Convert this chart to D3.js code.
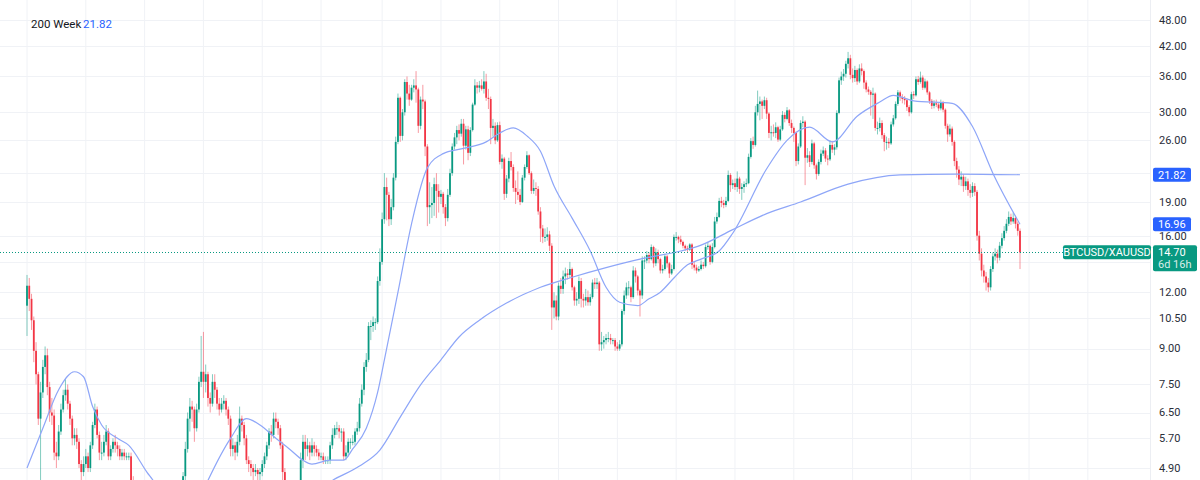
<!DOCTYPE html>
<html>
<head>
<meta charset="utf-8">
<script src="https://cdn.jsdelivr.net/npm/d3@7"></script>
<style>
  html, body { margin: 0; padding: 0; background: #fff; }
  svg { display: block; font-family: Roboto, "Liberation Sans", Arial, sans-serif; }
</style>
</head>
<body>
<svg id="chart" width="1200" height="480"></svg>
<script>
// weekly BTCUSD/XAUUSD candles, first week of 2018 onward (open = previous close)
const firstOpen = 11.2;

const close = [
  // 2018
  12.4, 11.6, 10.4, 8.9, 7.9, 6.3, 7.2, 8.2, 8.7, 7.4,
  6.5, 6.4, 5.3, 5.2, 5.9, 6.6, 7.1, 7.3, 6.8, 6.3,
  5.7, 5.8, 5.6, 5.0, 4.8, 5.0, 5.2, 4.9, 5.5, 6.1,
  6.6, 5.8, 5.3, 5.3, 5.6, 5.9, 5.2, 5.4, 5.6, 5.5,
  5.4, 5.2, 5.3, 5.2, 5.2, 5.2, 4.6, 3.3, 3.3, 2.8,
  2.6, 3.2,
  // 2019
  3.0, 2.8, 2.75, 2.7, 2.7, 2.8, 2.9, 2.9, 3.0, 3.0,
  3.1, 3.1, 3.9, 4.0, 4.1, 4.1, 4.4, 4.7, 5.4, 6.3,
  6.7, 6.6, 6.0, 6.6, 7.6, 8.0, 7.6, 7.9, 7.0, 6.8,
  7.6, 7.3, 6.8, 6.6, 6.8, 6.9, 6.6, 6.3, 5.4, 5.5,
  5.3, 5.6, 6.3, 6.1, 5.7, 5.1, 5.0, 4.9, 4.8, 4.85,
  4.75, 4.8,
  // 2020
  5.0, 5.2, 5.5, 5.9, 5.8, 6.3, 6.2, 6.0, 5.5, 4.8,
  3.5, 3.9, 3.7, 4.1, 4.0, 4.1, 4.4, 5.1, 5.6, 5.4,
  5.5, 5.3, 5.5, 5.4, 5.3, 5.2, 5.2, 5.1, 5.1, 5.1,
  5.5, 5.8, 6.0, 6.0, 5.9, 5.9, 5.2, 5.3, 5.6, 5.6,
  5.6, 5.9, 6.0, 6.8, 7.3, 8.2, 8.5, 10.1, 10.1, 10.3,
  10.3, 12.7,
  // 2021
  14.0, 17.4, 20.5, 19.7, 17.4, 18.5, 21.5, 25.8, 32.3, 26.6,
  30.0, 35.0, 33.0, 32.0, 34.0, 34.4, 33.7, 28.0, 32.0, 31.7,
  25.2, 18.5, 18.7, 18.9, 20.8, 20.1, 19.5, 19.8, 18.5, 17.5,
  19.7, 22.0, 25.2, 26.4, 27.4, 26.9, 28.3, 25.3, 27.5, 24.4,
  27.4, 31.2, 34.4, 34.0, 34.4, 33.8, 35.1, 32.3, 32.1, 27.7,
  28.0, 26.0, 28.1,
  // 2022
  23.3, 23.7, 19.8, 21.4, 23.4, 22.7, 20.4, 20.0, 19.7, 19.0,
  21.5, 22.7, 24.1, 22.0, 20.1, 20.4, 20.3, 18.1, 16.6, 15.9,
  15.9, 16.1, 15.2, 11.1, 11.5, 10.6, 12.4, 12.2, 13.0, 13.2,
  13.1, 13.5, 12.3, 11.5, 11.6, 12.7, 11.6, 11.5, 11.7, 11.4,
  11.7, 12.6, 12.5, 12.6, 9.2, 9.3, 9.4, 9.5, 9.5, 9.4,
  9.4, 9.1,
  // 2023
  9.0, 9.2, 10.9, 11.8, 12.3, 12.3, 11.7, 13.4, 13.0, 12.1,
  11.8, 14.1, 14.1, 14.5, 14.2, 15.1, 13.9, 14.7, 14.2, 13.4,
  13.5, 14.4, 13.9, 13.2, 13.5, 15.9, 15.9, 15.7, 15.5, 15.2,
  15.0, 14.9, 15.3, 13.8, 13.6, 13.4, 13.5, 13.8, 13.7, 15.1,
  15.2, 14.0, 15.1, 17.2, 17.6, 19.1, 18.9, 18.7, 19.1, 21.8,
  20.7, 20.9, 20.5,
  // 2024
  21.4, 20.3, 20.5, 20.8, 20.9, 23.9, 25.9, 25.4, 30.0, 31.3,
  31.7, 31.0, 31.9, 29.8, 27.0, 27.1, 27.0, 27.8, 26.1, 27.5,
  29.6, 29.0, 30.3, 28.4, 27.7, 27.0, 23.4, 25.2, 28.4, 28.6,
  23.8, 24.1, 23.3, 25.6, 22.9, 21.9, 23.3, 24.3, 24.7, 23.7,
  23.6, 25.4, 24.8, 25.1, 29.9, 35.3, 36.0, 36.5, 38.4, 39.5,
  36.3, 35.7,
  // 2025 - 2026
  37.2, 35.1, 37.5, 37.0, 34.9, 33.7, 33.3, 32.8, 33.0, 27.7,
  27.7, 28.4, 26.7, 25.8, 25.8, 25.6, 28.2, 29.1, 31.3, 33.2,
  32.4, 32.1, 31.9, 30.8, 30.0, 32.9, 32.7, 35.5, 35.0, 35.8,
  34.0, 35.1, 33.2, 31.8, 31.0, 31.4, 31.2, 30.6, 31.5, 30.4,
  28.0, 26.8, 27.6, 25.8, 23.4, 22.4, 21.3, 21.6, 20.6, 21.1,
  20.2, 19.9, 20.6, 20.0, 16.0, 14.6, 13.4, 13.0, 12.6, 12.3,
  13.5, 14.4, 14.6, 14.3, 15.2, 15.8, 16.4, 17.0, 17.6, 17.2,
  17.5, 17.0, 16.4, 14.7
];

const high = [
  // 2018
  13.1, 12.9, 11.9, 10.6, 9.3, 8.0, 7.6, 8.5, 9.1, 9.0,
  7.6, 7.0, 6.6, 5.6, 6.1, 6.8, 7.3, 7.7, 7.5, 6.9,
  6.4, 6.0, 6.0, 5.7, 5.1, 5.2, 5.4, 5.3, 5.6, 6.2,
  6.8, 6.7, 5.9, 5.6, 5.8, 6.1, 6.0, 5.5, 5.7, 5.8,
  5.6, 5.5, 5.4, 5.4, 5.3, 5.3, 5.3, 4.7, 3.6, 3.4,
  2.9, 3.4,
  // 2019
  3.3, 3.1, 2.9, 2.8, 2.8, 2.9, 3.0, 3.0, 3.1, 3.1,
  3.2, 3.2, 4.0, 4.2, 4.3, 4.3, 4.5, 4.8, 5.6, 6.5,
  7.0, 6.9, 6.7, 6.8, 7.8, 9.6, 9.8, 8.3, 8.0, 7.2,
  7.9, 7.9, 7.4, 7.0, 7.0, 7.1, 7.0, 6.7, 6.4, 5.7,
  5.6, 5.8, 6.7, 6.4, 6.2, 5.8, 5.2, 5.1, 5.0, 5.0,
  4.9, 4.9,
  // 2020
  5.1, 5.3, 5.6, 6.0, 6.1, 6.5, 6.5, 6.3, 6.1, 5.6,
  4.9, 4.1, 4.0, 4.2, 4.3, 4.2, 4.6, 5.3, 5.8, 5.8,
  5.7, 5.6, 5.7, 5.6, 5.5, 5.4, 5.3, 5.3, 5.2, 5.2,
  5.6, 6.0, 6.1, 6.2, 6.1, 6.0, 6.0, 5.5, 5.7, 5.7,
  5.8, 6.0, 6.2, 7.0, 7.5, 8.4, 8.8, 10.3, 10.4, 10.6,
  10.5, 13.0,
  // 2021
  15.0, 18.0, 22.0, 21.5, 20.0, 19.3, 22.0, 26.5, 33.0, 32.5,
  30.5, 35.5, 36.0, 34.5, 34.5, 35.5, 37.0, 34.0, 32.5, 34.5,
  32.0, 25.5, 21.0, 20.5, 21.5, 22.0, 20.8, 20.2, 20.0, 18.8,
  20.3, 22.5, 25.6, 27.0, 28.0, 28.2, 29.0, 29.0, 28.0, 28.0,
  27.8, 31.5, 35.5, 35.0, 35.2, 35.5, 37.0, 36.5, 33.8, 32.5,
  29.0, 28.5, 28.5,
  // 2022
  28.6, 24.2, 23.9, 21.8, 23.8, 24.5, 23.0, 21.2, 22.2, 20.3,
  21.8, 23.0, 24.6, 24.2, 22.2, 21.3, 21.0, 20.6, 18.5, 16.9,
  16.6, 16.7, 16.4, 15.4, 12.0, 11.8, 12.6, 12.9, 13.4, 13.6,
  13.5, 14.0, 13.6, 12.4, 12.0, 13.0, 12.9, 11.9, 12.2, 12.1,
  11.9, 12.8, 12.9, 12.9, 12.7, 9.8, 9.6, 9.7, 9.8, 9.7,
  9.5, 9.5,
  // 2023
  9.3, 9.4, 11.0, 12.1, 12.6, 12.7, 12.4, 13.7, 13.6, 13.1,
  12.2, 14.4, 14.4, 14.8, 14.7, 15.3, 15.2, 15.0, 14.9, 14.3,
  13.8, 14.6, 14.5, 14.0, 13.8, 16.1, 16.3, 16.0, 16.0, 15.6,
  15.3, 15.2, 15.4, 15.4, 14.0, 13.8, 13.7, 14.1, 14.0, 15.3,
  15.5, 15.3, 15.4, 17.6, 18.0, 19.4, 19.5, 19.2, 19.5, 22.3,
  22.0, 21.3, 21.4,
  // 2024
  22.2, 21.6, 20.9, 21.1, 21.4, 24.3, 26.3, 26.5, 31.0, 33.5,
  32.5, 32.0, 32.5, 32.3, 30.0, 28.0, 28.2, 28.5, 28.0, 28.0,
  30.2, 30.0, 30.8, 30.5, 28.9, 27.9, 27.2, 25.6, 28.8, 29.4,
  28.8, 25.0, 24.6, 26.1, 25.8, 23.1, 23.6, 24.8, 25.2, 25.0,
  24.1, 26.0, 25.9, 25.5, 30.3, 35.8, 36.9, 37.4, 39.0, 40.8,
  40.2, 37.5,
  // 2025 - 2026
  38.0, 37.5, 38.3, 38.5, 37.3, 35.3, 34.2, 33.6, 34.0, 33.2,
  28.6, 29.2, 28.8, 27.0, 26.5, 26.3, 28.6, 29.6, 31.7, 33.6,
  33.5, 32.9, 32.6, 32.2, 31.1, 33.3, 33.4, 36.0, 36.1, 36.9,
  36.2, 35.6, 35.3, 33.4, 32.1, 31.9, 32.0, 31.5, 32.0, 31.8,
  30.6, 28.3, 28.2, 27.9, 26.0, 23.8, 22.8, 22.2, 21.9, 21.6,
  21.4, 20.8, 21.0, 20.9, 20.2, 16.4, 15.0, 13.8, 13.3, 12.9,
  13.7, 14.7, 15.0, 14.9, 15.5, 16.2, 16.8, 17.4, 18.1, 17.9,
  18.0, 17.7, 17.2, 16.6
];

const low = [
  // 2018
  9.6, 10.9, 9.9, 8.4, 7.5, 6.1, 4.5, 7.0, 7.9, 7.1,
  6.2, 6.1, 5.1, 4.9, 5.1, 5.8, 6.5, 6.9, 6.6, 6.1,
  5.5, 5.5, 5.4, 4.9, 4.6, 4.7, 4.9, 4.8, 4.8, 5.4,
  6.0, 5.7, 5.1, 5.1, 5.2, 5.5, 5.1, 5.1, 5.3, 5.3,
  5.2, 5.1, 5.1, 5.1, 5.1, 5.1, 4.4, 3.1, 3.0, 2.6,
  2.5, 2.5,
  // 2019
  2.9, 2.7, 2.6, 2.6, 2.6, 2.6, 2.7, 2.8, 2.9, 2.9,
  2.9, 3.0, 3.1, 3.8, 3.9, 3.9, 4.0, 4.3, 4.6, 5.3,
  5.9, 6.2, 5.6, 5.9, 6.5, 7.4, 7.0, 7.2, 6.7, 6.5,
  6.7, 7.0, 6.6, 6.4, 6.5, 6.6, 6.4, 6.1, 5.2, 5.2,
  5.1, 5.2, 5.5, 5.9, 5.5, 5.0, 4.8, 4.7, 4.6, 4.7,
  4.6, 4.6,
  // 2020
  4.7, 4.9, 5.1, 5.4, 5.6, 5.7, 6.0, 5.8, 5.4, 4.6,
  2.8, 3.4, 3.6, 3.6, 3.9, 3.9, 4.0, 4.3, 4.9, 5.1,
  5.2, 5.1, 5.2, 5.2, 5.2, 5.1, 5.1, 5.0, 5.0, 5.0,
  5.0, 5.4, 5.7, 5.8, 5.7, 5.6, 5.1, 5.1, 5.2, 5.4,
  5.5, 5.5, 5.8, 5.9, 6.7, 7.1, 8.0, 8.4, 9.4, 9.8,
  9.9, 10.2,
  // 2021
  12.4, 13.8, 17.0, 17.3, 16.8, 16.9, 18.2, 21.2, 25.5, 25.8,
  26.0, 29.5, 32.0, 31.0, 31.8, 33.2, 31.5, 27.0, 27.5, 30.5,
  24.0, 16.8, 17.0, 17.5, 17.7, 17.5, 18.0, 18.8, 17.9, 16.8,
  17.2, 19.5, 21.7, 24.8, 25.5, 26.0, 26.5, 23.0, 24.8, 23.5,
  24.0, 27.2, 31.0, 33.0, 33.2, 33.5, 33.0, 31.8, 30.5, 25.5,
  26.5, 25.5, 25.8,
  // 2022
  23.0, 22.5, 19.2, 19.4, 21.0, 22.3, 20.0, 18.8, 19.2, 18.7,
  18.9, 21.2, 22.5, 21.8, 19.8, 19.8, 19.6, 17.8, 15.5, 15.4,
  15.5, 15.6, 14.8, 9.9, 10.5, 10.4, 10.4, 11.9, 11.9, 12.5,
  12.8, 12.9, 12.1, 11.2, 11.2, 11.3, 11.1, 11.1, 11.2, 11.2,
  11.2, 11.6, 12.2, 12.2, 8.9, 8.9, 9.0, 9.2, 9.3, 9.2,
  9.2, 8.9,
  // 2023
  8.9, 8.9, 9.1, 10.7, 11.6, 11.8, 11.4, 11.6, 12.6, 11.8,
  10.6, 11.6, 13.5, 13.9, 13.9, 14.1, 13.6, 13.7, 13.9, 13.2,
  13.2, 13.4, 13.6, 12.9, 13.1, 13.4, 15.6, 15.4, 15.3, 15.0,
  14.8, 14.7, 14.8, 13.5, 13.4, 13.2, 13.3, 13.4, 13.5, 13.6,
  14.9, 13.8, 13.9, 15.0, 17.0, 17.5, 18.5, 18.4, 18.5, 19.0,
  20.0, 20.3, 20.2,
  // 2024
  20.0, 19.8, 19.2, 19.9, 20.5, 20.8, 23.7, 24.9, 25.2, 29.5,
  28.8, 29.0, 30.5, 29.0, 26.3, 26.0, 26.5, 26.3, 25.8, 25.9,
  27.3, 28.5, 28.8, 28.0, 27.0, 25.8, 22.8, 23.0, 25.0, 27.8,
  20.7, 23.2, 22.7, 23.0, 22.5, 21.3, 21.7, 23.0, 24.0, 23.3,
  22.9, 23.4, 24.4, 24.1, 24.8, 29.7, 34.5, 35.2, 35.8, 37.5,
  35.5, 34.9,
  // 2025 - 2026
  35.0, 34.5, 34.8, 36.2, 33.8, 33.2, 32.8, 29.5, 29.0, 27.3,
  26.8, 27.2, 26.2, 24.6, 24.8, 25.0, 25.4, 27.9, 28.9, 31.0,
  31.8, 31.4, 31.2, 30.2, 29.4, 29.8, 32.1, 32.5, 34.5, 34.7,
  33.6, 33.7, 32.8, 31.3, 30.5, 30.6, 30.8, 30.2, 30.3, 30.0,
  27.6, 25.8, 26.5, 25.3, 22.8, 21.5, 20.7, 20.6, 20.0, 20.2,
  19.6, 19.4, 19.5, 19.6, 15.6, 14.1, 13.0, 12.6, 12.1, 12.0,
  12.1, 13.3, 14.1, 13.9, 14.1, 15.0, 15.6, 16.2, 16.8, 16.9,
  17.0, 16.6, 16.0, 13.5
];

// moving averages at selected weeks
const ma200Week  = [120, 135, 147, 156, 165, 174, 183, 191, 200, 212, 227, 241, 256, 271, 289, 298, 312, 327, 342, 363, 386, 411, 439];
const ma200Value = [4.1, 4.6, 4.95, 5.37, 6.35, 7.48, 8.5, 9.55, 10.4, 11.35, 12.3, 12.95, 13.6, 14.2, 14.8, 15.25, 16.5, 17.9, 19.0, 20.8, 21.8, 21.9, 21.82];

const fastWeek  = [0, 7, 14, 21, 25, 29, 33, 40, 45, 53, 57, 68, 80, 90, 97, 103, 110, 116, 122, 126, 134, 140, 144, 150, 155, 158, 164, 170, 177, 184, 192, 203, 209, 215, 221, 227, 233, 241, 249, 256, 262, 270, 275, 280, 286, 292, 298, 306, 312, 327, 336, 346, 356, 367, 377, 383, 392, 409, 418, 427, 439];
const fastValue = [4.9, 6.0, 7.3, 8.0, 7.8, 6.7, 6.1, 5.7, 5.5, 4.8, 4.5, 3.3, 4.6, 5.7, 6.3, 6.1, 5.7, 5.4, 5.1, 5.0, 5.1, 5.1, 5.4, 6.0, 7.2, 8.5, 12.0, 17.0, 22.6, 24.3, 24.9, 25.8, 27.0, 27.7, 26.6, 24.6, 20.6, 17.5, 14.8, 12.3, 11.4, 11.2, 11.6, 12.0, 12.9, 13.8, 14.2, 14.8, 16.2, 22.5, 26.0, 27.8, 25.8, 29.4, 31.6, 32.7, 31.8, 31.4, 27.9, 22.0, 16.96];

// axis ticks and vertical grid (half-year steps, in weeks)
const priceTicks = [48, 42, 36, 30, 26, 22, 19, 16, 14, 12, 10.5, 9, 7.5, 6.5, 5.7, 4.9];
const gridWeeks = [0, 26, 52, 78, 104, 130, 157, 183, 209, 235, 261, 287, 313, 339, 365, 391, 417, 443, 469];

const lastPrice = 14.70;
const ma200Last = 21.82;
const fastLast = 16.96;
const symbol = "BTCUSD/XAUUSD";
const countdown = "6d 16h";

const W = 1200, H = 480, plotRight = 1150;
const upColor = "#089981", downColor = "#f23645", maColor = "#8ea6f8";

const candles = close.map((c, i) => ({
  i: i,
  o: i ? close[i - 1] : firstOpen,
  c: c,
  h: high[i],
  l: low[i]
}));

const x = d3.scaleLinear().domain([0, close.length - 1]).range([27, 1020]);
const y = d3.scaleLog().domain([4.9, 48]).range([468, 20]);

const svg = d3.select("#chart");
svg.append("rect").attr("width", W).attr("height", H).attr("fill", "#fff");

svg.append("defs").append("clipPath").attr("id", "plot")
  .append("rect").attr("x", 0).attr("y", 0).attr("width", plotRight).attr("height", H);

// grid
const grid = svg.append("g");
grid.selectAll(".vg").data(gridWeeks).join("line")
  .attr("x1", d => x(d)).attr("x2", d => x(d))
  .attr("y1", 0).attr("y2", H)
  .attr("stroke", "#f0f2f6");
grid.selectAll(".hg").data(priceTicks).join("line")
  .attr("x1", 0).attr("x2", plotRight)
  .attr("y1", d => Math.round(y(d)) + 0.5).attr("y2", d => Math.round(y(d)) + 0.5)
  .attr("stroke", "#f0f2f6");
svg.append("line")
  .attr("x1", plotRight + 0.5).attr("x2", plotRight + 0.5)
  .attr("y1", 0).attr("y2", H)
  .attr("stroke", "#eceef3");

const plot = svg.append("g").attr("clip-path", "url(#plot)");

// candles
const bw = 1.8;
plot.append("g").selectAll("line").data(candles).join("line")
  .attr("x1", d => x(d.i)).attr("x2", d => x(d.i))
  .attr("y1", d => y(Math.max(d.h, d.o, d.c)))
  .attr("y2", d => y(Math.min(d.l, d.o, d.c)))
  .attr("stroke", d => d.c >= d.o ? upColor : downColor)
  .attr("stroke-opacity", 0.5)
  .attr("stroke-width", 1);

plot.append("g").selectAll("rect").data(candles).join("rect")
  .attr("x", d => x(d.i) - bw / 2)
  .attr("width", bw)
  .attr("y", d => y(Math.max(d.o, d.c)))
  .attr("height", d => Math.max(1, Math.abs(y(d.o) - y(d.c))))
  .attr("fill", d => d.c >= d.o ? upColor : downColor);

// moving averages
const maLine = d3.line()
  .x(d => x(d[0]))
  .y(d => y(d[1]))
  .curve(d3.curveMonotoneX);

plot.append("path")
  .datum(d3.zip(ma200Week, ma200Value))
  .attr("d", maLine)
  .attr("fill", "none")
  .attr("stroke", maColor)
  .attr("stroke-width", 1.2);

plot.append("path")
  .datum(d3.zip(fastWeek, fastValue))
  .attr("d", maLine)
  .attr("fill", "none")
  .attr("stroke", maColor)
  .attr("stroke-width", 1.2);

// last price line
const py = y(lastPrice);
svg.append("line")
  .attr("x1", 0).attr("x2", plotRight)
  .attr("y1", Math.round(py) + 0.5).attr("y2", Math.round(py) + 0.5)
  .attr("stroke", upColor)
  .attr("stroke-dasharray", "1 2");

// price scale: tick labels hidden where a value tag covers them
const tagSpans = [
  [y(ma200Last) - 7, y(ma200Last) + 7],
  [y(fastLast) - 7, y(fastLast) + 7],
  [py - 7, py + 19]
];
const visibleTicks = priceTicks.filter(d => !tagSpans.some(s => y(d) > s[0] - 3 && y(d) < s[1] + 3));

svg.append("g").selectAll("text").data(visibleTicks).join("text")
  .attr("x", 1159)
  .attr("y", d => y(d))
  .attr("dy", "0.35em")
  .attr("font-size", 11)
  .attr("fill", "#2a2e39")
  .text(d => d.toFixed(2));

function tag(value, color) {
  const yy = y(value);
  svg.append("rect")
    .attr("x", 1153).attr("y", yy - 7).attr("width", 38).attr("height", 14)
    .attr("rx", 2).attr("fill", color);
  svg.append("text")
    .attr("x", 1158).attr("y", yy).attr("dy", "0.35em")
    .attr("font-size", 11).attr("fill", "#fff")
    .text(value.toFixed(2));
}
tag(ma200Last, "#2962ff");
tag(fastLast, "#2962ff");

// last price tag with countdown
svg.append("rect")
  .attr("x", 1153).attr("y", py - 7).attr("width", 44).attr("height", 26)
  .attr("rx", 2).attr("fill", upColor);
svg.append("text")
  .attr("x", 1158).attr("y", py).attr("dy", "0.35em")
  .attr("font-size", 11).attr("fill", "#fff")
  .text(lastPrice.toFixed(2));
svg.append("text")
  .attr("x", 1158).attr("y", py + 12).attr("dy", "0.35em")
  .attr("font-size", 11).attr("fill", "#fff").attr("fill-opacity", 0.85)
  .text(countdown);

// symbol tag
svg.append("rect")
  .attr("x", 1063).attr("y", py - 7).attr("width", 88).attr("height", 14)
  .attr("rx", 2).attr("fill", upColor);
svg.append("text")
  .attr("x", 1107).attr("y", py).attr("dy", "0.35em")
  .attr("text-anchor", "middle")
  .attr("font-size", 11).attr("fill", "#fff")
  .text(symbol);

// legend
const legend = svg.append("text")
  .attr("x", 31).attr("y", 24).attr("dy", "0.35em")
  .attr("font-size", 11.5).attr("fill", "#131722");
legend.append("tspan").text("200 Week");
legend.append("tspan").attr("x", 83).attr("fill", "#2962ff").text(ma200Last.toFixed(2));
</script>
</body>
</html>
